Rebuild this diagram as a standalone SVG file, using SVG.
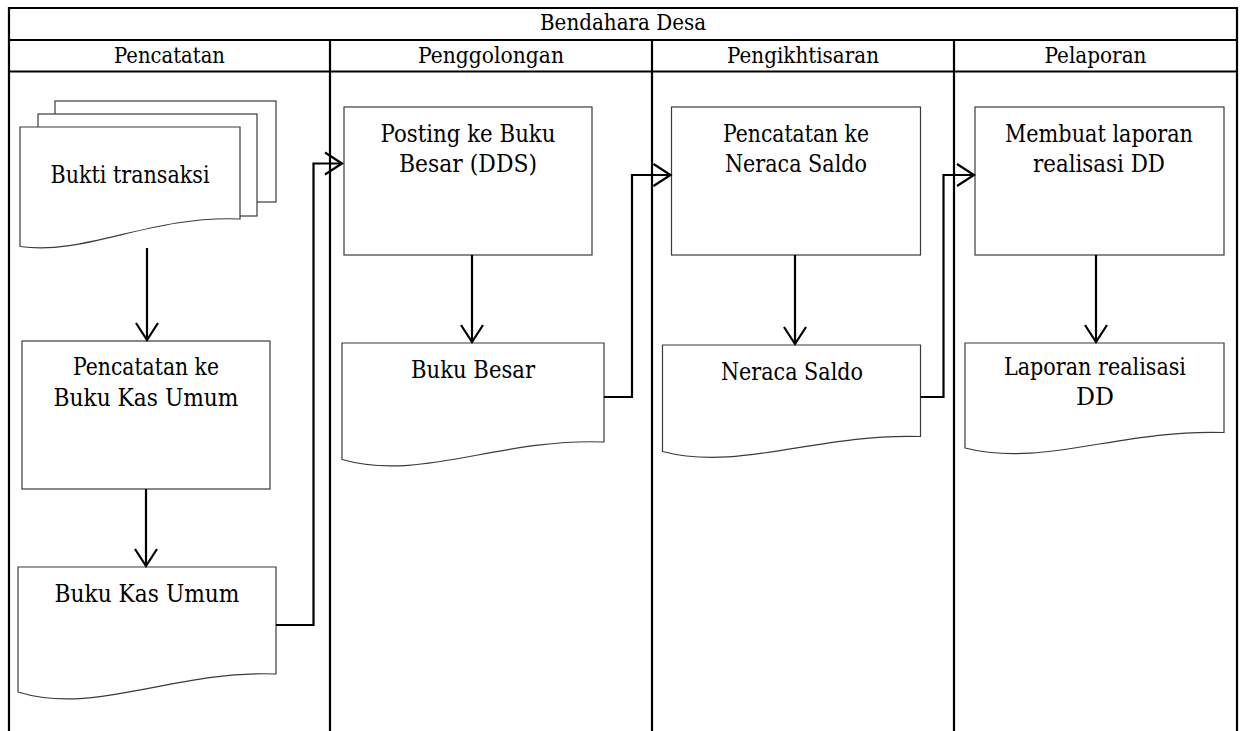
<svg xmlns="http://www.w3.org/2000/svg" width="1240" height="731" viewBox="0 0 1240 731">
  <style>
    .grid { stroke: #000; stroke-width: 2.2; fill: none; }
    .shape { fill: #fff; stroke: #3a3a3a; stroke-width: 1.2; }
    .head { font-family: "DejaVu Serif", "Liberation Serif", serif; font-size: 22.5px; fill: #000; text-anchor: middle; }
    .lbl { font-family: "DejaVu Serif", "Liberation Serif", serif; font-size: 23.5px; fill: #000; text-anchor: middle; }
    .conn { stroke: #000; stroke-width: 2.2; fill: none; }
  </style>
  <defs>
    <marker id="arrow" markerUnits="userSpaceOnUse" markerWidth="24" markerHeight="26" viewBox="-20 -13 24 26" refX="0" refY="0" orient="auto">
      <path d="M-17,-11 L0,0 L-17,11" fill="none" stroke="#000" stroke-width="2.2"/>
    </marker>
  </defs>
  <rect width="1240" height="731" fill="#fff"/>

  <!-- swimlane table -->
  <g id="table">
    <path class="grid" d="M9,8 H1237 M9,40 H1237 M9,71.5 H1237 M9,7 V731 M1237,7 V731 M330,40 V731 M652,40 V731 M954,40 V731"/>
    <text class="head" x="623" y="30" textLength="166" lengthAdjust="spacingAndGlyphs">Bendahara Desa</text>
    <text class="head" x="169.5" y="63" textLength="111" lengthAdjust="spacingAndGlyphs">Pencatatan</text>
    <text class="head" x="491" y="63" textLength="146" lengthAdjust="spacingAndGlyphs">Penggolongan</text>
    <text class="head" x="803" y="63" textLength="152" lengthAdjust="spacingAndGlyphs">Pengikhtisaran</text>
    <text class="head" x="1095.5" y="63" textLength="102" lengthAdjust="spacingAndGlyphs">Pelaporan</text>
  </g>

  <!-- lane 1: Pencatatan -->
  <g id="bukti-transaksi">
    <rect class="shape" x="55" y="101" width="221" height="101"/>
    <rect class="shape" x="38" y="114" width="219" height="102"/>
    <path class="shape" d="M20,127 H240 V219 C150,215 86,256 20,246.5 Z"/>
    <text class="lbl" x="130" y="183" textLength="159" lengthAdjust="spacingAndGlyphs">Bukti transaksi</text>
  </g>
  <g id="pencatatan-bku">
    <rect class="shape" x="22" y="341" width="248" height="148"/>
    <text class="lbl" x="146" y="375" textLength="146" lengthAdjust="spacingAndGlyphs">Pencatatan ke</text>
    <text class="lbl" x="146" y="405.5" textLength="185" lengthAdjust="spacingAndGlyphs">Buku Kas Umum</text>
  </g>
  <g id="buku-kas-umum">
    <path class="shape" d="M18,567 H276 V674 C173,670 95,716 18,692 Z"/>
    <text class="lbl" x="147" y="602" textLength="185" lengthAdjust="spacingAndGlyphs">Buku Kas Umum</text>
  </g>

  <!-- lane 2: Penggolongan -->
  <g id="posting-buku-besar">
    <rect class="shape" x="344" y="107" width="248" height="148"/>
    <text class="lbl" x="468" y="141.5" textLength="175" lengthAdjust="spacingAndGlyphs">Posting ke Buku</text>
    <text class="lbl" x="468" y="171.5" textLength="138" lengthAdjust="spacingAndGlyphs">Besar (DDS)</text>
  </g>
  <g id="buku-besar">
    <path class="shape" d="M342,343 H604 V442 C499,438 421,482 342,459.5 Z"/>
    <text class="lbl" x="473" y="378" textLength="124" lengthAdjust="spacingAndGlyphs">Buku Besar</text>
  </g>

  <!-- lane 3: Pengikhtisaran -->
  <g id="pencatatan-neraca">
    <rect class="shape" x="671.5" y="107" width="249" height="148"/>
    <text class="lbl" x="796" y="141.5" textLength="146" lengthAdjust="spacingAndGlyphs">Pencatatan ke</text>
    <text class="lbl" x="796" y="171.5" textLength="142" lengthAdjust="spacingAndGlyphs">Neraca Saldo</text>
  </g>
  <g id="neraca-saldo">
    <path class="shape" d="M662.5,345 H920.5 V436.5 C817,433 740,472 662.5,451.5 Z"/>
    <text class="lbl" x="792" y="379.5" textLength="142" lengthAdjust="spacingAndGlyphs">Neraca Saldo</text>
  </g>

  <!-- lane 4: Pelaporan -->
  <g id="membuat-laporan">
    <rect class="shape" x="975" y="107" width="249" height="148"/>
    <text class="lbl" x="1099" y="141.5" textLength="188" lengthAdjust="spacingAndGlyphs">Membuat laporan</text>
    <text class="lbl" x="1099" y="171.5" textLength="132" lengthAdjust="spacingAndGlyphs">realisasi DD</text>
  </g>
  <g id="laporan-realisasi">
    <path class="shape" d="M965,343 H1224 V432.5 C1120,429 1043,468 965,448 Z"/>
    <text class="lbl" x="1095" y="375" textLength="182" lengthAdjust="spacingAndGlyphs">Laporan realisasi</text>
    <text class="lbl" x="1095" y="405" textLength="38" lengthAdjust="spacingAndGlyphs">DD</text>
  </g>

  <!-- connectors -->
  <g id="connectors">
    <path class="conn" d="M147,248 V340" marker-end="url(#arrow)"/>
    <path class="conn" d="M146,489 V566" marker-end="url(#arrow)"/>
    <path class="conn" d="M276,625 H313.5 V163.5 H342" marker-end="url(#arrow)"/>
    <path class="conn" d="M472,255 V342" marker-end="url(#arrow)"/>
    <path class="conn" d="M604,397 H632 V175 H670.5" marker-end="url(#arrow)"/>
    <path class="conn" d="M795,255 V344" marker-end="url(#arrow)"/>
    <path class="conn" d="M920.5,397 H943.5 V175 H974" marker-end="url(#arrow)"/>
    <path class="conn" d="M1096,255 V342" marker-end="url(#arrow)"/>
  </g>
</svg>
